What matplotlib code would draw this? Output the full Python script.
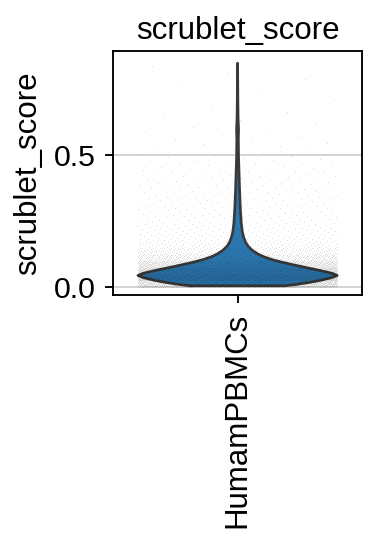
import matplotlib
matplotlib.use("Agg")
import matplotlib.pyplot as plt
import numpy as np

plt.rcParams['font.family'] = ['Liberation Sans', 'DejaVu Sans']

category = "HumamPBMCs"
metric = "scrublet_score"

# violin outline: score level -> half width (x units)
profile_score = [0.005, 0.010, 0.018, 0.025, 0.035, 0.044, 0.052, 0.063, 0.075,
                 0.085, 0.095, 0.105, 0.115, 0.125, 0.140, 0.155, 0.170, 0.190,
                 0.210, 0.240, 0.300, 0.370, 0.430, 0.490, 0.560, 0.595, 0.640,
                 0.700, 0.780, 0.848]
profile_halfwidth = [0.190, 0.235, 0.290, 0.330, 0.375, 0.400, 0.380, 0.330, 0.270,
                     0.220, 0.175, 0.135, 0.105, 0.082, 0.058, 0.042, 0.032, 0.024,
                     0.019, 0.015, 0.011, 0.008, 0.006, 0.004, 0.003, 0.004, 0.002,
                     0.0012, 0.0006, 0.0]

# jitter dots: approximate number of cells per 0.025-wide score bin
bin_edges = np.arange(0, 0.875, 0.025)
bin_counts = [1000, 1520, 1200, 800, 420, 220, 110, 70, 50, 42, 36, 30, 27, 24,
              21, 18, 15, 12, 10, 8, 5, 4, 3, 3, 2, 2, 1, 1, 1, 1, 1, 1, 1, 1]

fig = plt.figure(figsize=(378 / 150, 541 / 150), dpi=150)
ax = fig.add_axes([0.299, 0.4547, 0.659, 0.451])

ax.yaxis.grid(True, color='#cccccc', linewidth=0.8)
ax.set_axisbelow(True)

hw = np.array(profile_halfwidth)
ax.fill_betweenx(profile_score, -hw, hw, facecolor='#2b78b1', edgecolor='none', zorder=2)
ax.plot(np.r_[-hw, hw[::-1], -hw[:1]],
        np.r_[profile_score, profile_score[::-1], profile_score[:1]],
        color='#3a3a3a', linewidth=1.3, solid_joinstyle='round', zorder=3)

# lay the dots out evenly inside each bin
xs, ys = [], []
phi = 0.6180339887
k = 0
for lo, n in zip(bin_edges[:-1], bin_counts):
    for i in range(n):
        k += 1
        xs.append(((k * phi) % 1.0) * 0.8 - 0.4)
        ys.append(lo + 0.025 * (i + 0.5) / n)
ax.scatter(xs, ys, s=0.15, color='black', alpha=0.14, linewidths=0, zorder=4)

ax.set_xlim(-0.5, 0.5)
ax.set_ylim(-0.03, 0.894)
ax.set_xticks([0])
ax.set_xticklabels([category], rotation=90, fontsize=15)
ax.set_yticks([0.0, 0.5])
ax.set_yticklabels(['0.0', '0.5'], fontsize=14.5)
ax.set_ylabel(metric, fontsize=15, labelpad=5)
ax.set_title(metric, fontsize=15, pad=6)
for s in ax.spines.values():
    s.set_linewidth(0.9)
ax.tick_params(length=3.8, width=0.9, pad=4.5)

fig.savefig('out.png', dpi=150)
